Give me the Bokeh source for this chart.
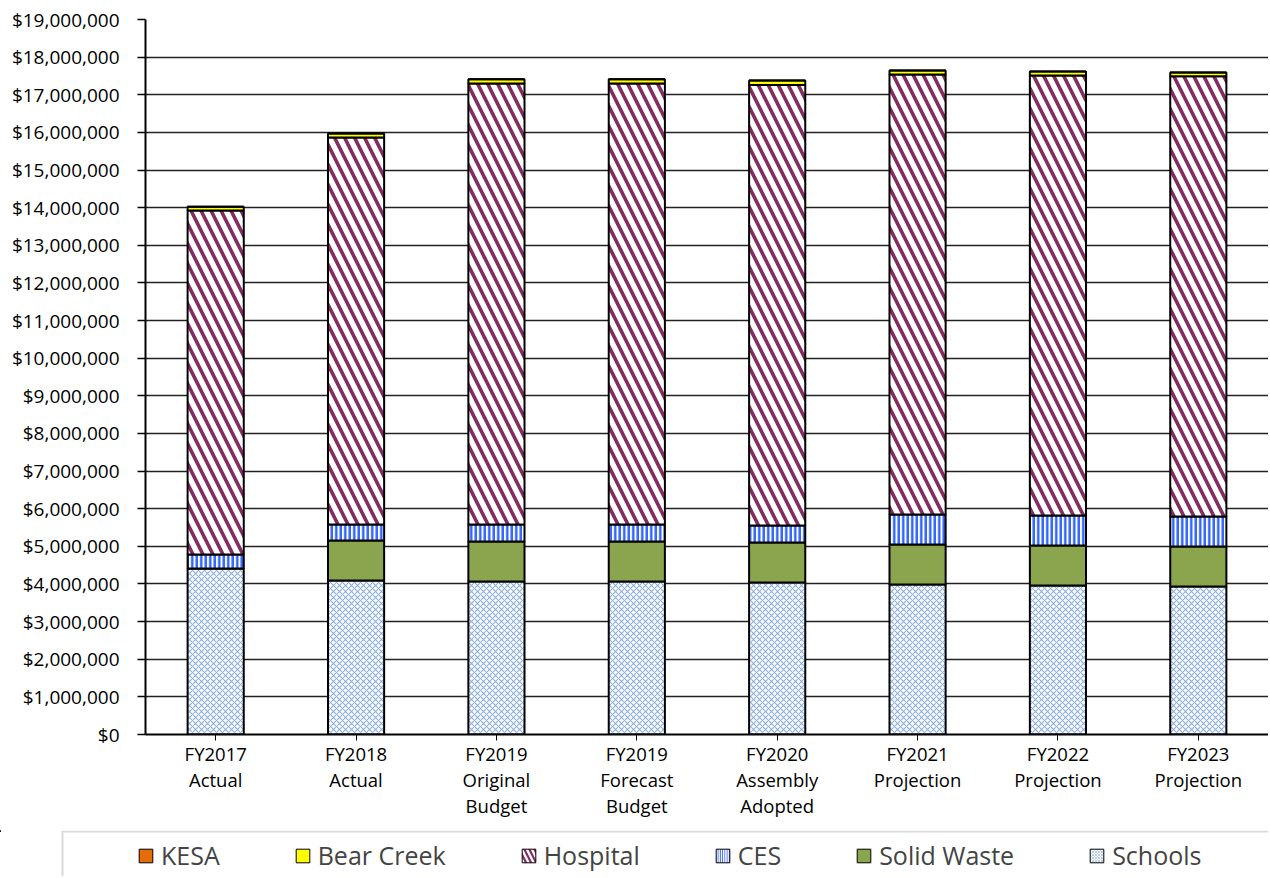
from bokeh.plotting import figure
from bokeh.layouts import column
from bokeh.models import FactorRange, Range1d, Legend, LegendItem, NumeralTickFormatter, FixedTicker
from bokeh.embed import file_html
from bokeh.resources import INLINE

categories = ["FY2017\nActual", "FY2018\nActual", "FY2019\nOriginal\nBudget", "FY2019\nForecast\nBudget",
              "FY2020\nAssembly\nAdopted", "FY2021\nProjection", "FY2022\nProjection", "FY2023\nProjection"]
schools = [4410000, 4090000, 4066000, 4066000, 4039000, 3986000, 3960000, 3933000]
solid_waste = [0, 1065000, 1063000, 1063000, 1063000, 1063000, 1062000, 1062000]
ces = [372000, 426000, 452000, 452000, 452000, 797000, 798000, 798000]
hospital = [9140000, 10284000, 11719000, 11719000, 11706000, 11694000, 11690000, 11697000]
bear_creek = [105000, 105000, 110000, 110000, 120000, 105000, 110000, 100000]
kesa = [0, 0, 0, 0, 0, 0, 0, 0]

series_names = ["Schools", "Solid Waste", "CES", "Hospital", "Bear Creek", "KESA"]
series_keys = ["schools", "solid_waste", "ces", "hospital", "bear_creek", "kesa"]
y_ticks = list(range(0, 19000001, 1000000))

data = dict(cat=categories, schools=schools, solid_waste=solid_waste, ces=ces,
            hospital=hospital, bear_creek=bear_creek, kesa=kesa)

W = 1268
p = figure(x_range=FactorRange(*categories, range_padding=0), y_range=Range1d(0, 19000000),
           width=W, height=830, output_backend="svg", toolbar_location=None,
           min_border_left=145, min_border_right=0, min_border_top=19, min_border_bottom=96)

fills = ["white", "#8BA54E", "white", "white", "#FFFF00", "#E46C0A"]
hatches = ["diagonal_cross", " ", "|", "\\", " ", " "]
hatch_colors = ["#8EB0DE", None, "#3366FF", "#842C60", None, None]
hatch_scales = [6, 12, 4.5, 20, 12, 12]
hatch_weights = [1.1, 1, 2.5, 3.6, 1, 1]

renderers = p.vbar_stack(series_keys, x="cat", width=0.4, source=data,
                         fill_color=fills, line_color="black", line_width=2,
                         hatch_pattern=hatches, hatch_color=hatch_colors,
                         hatch_scale=hatch_scales, hatch_weight=hatch_weights)

p.yaxis.ticker = FixedTicker(ticks=y_ticks)
p.yaxis.formatter = NumeralTickFormatter(format="$0,0")
p.yaxis.minor_tick_line_color = None
p.yaxis.major_tick_out = 8
p.yaxis.major_tick_in = 0
p.yaxis.major_label_standoff = 18
p.yaxis.axis_line_width = 2
p.yaxis.major_tick_line_width = 1.5
p.yaxis.major_label_text_font_size = "19px"
p.xaxis.axis_line_width = 2
p.xaxis.major_tick_out = 6
p.xaxis.major_tick_in = 0
p.xaxis.major_label_standoff = 0
p.xaxis.major_label_text_line_height = 1.04
p.xaxis.major_label_text_font_size = "18.5px"
for ax in (p.xaxis, p.yaxis):
    ax.major_label_text_font = "Open Sans"
    ax.major_label_text_color = "black"
    ax.axis_line_color = "black"
    ax.major_tick_line_color = "black"

p.xgrid.grid_line_color = None
p.ygrid.grid_line_color = "#222222"
p.ygrid.grid_line_width = 1.5
p.outline_line_color = None

# legend strip
LH = 46
leg = figure(width=W, height=LH, x_range=Range1d(0, W), y_range=Range1d(LH, 0),
             output_backend="svg", toolbar_location=None,
             min_border_left=0, min_border_right=0, min_border_top=0, min_border_bottom=0)
for fig in (p, leg):
    try:
        fig.frame_align = False
    except Exception:
        pass
leg.axis.visible = False
leg.grid.visible = False
leg.outline_line_color = None
leg.line(x=[62, 62, W], y=[LH, 1, 1], line_color="#D9D9D9", line_width=2)

dummies = []
for i in range(6):
    r = leg.vbar(x=[-500], top=[1], bottom=[0], width=1, fill_color=fills[i], line_color="black",
                 line_width=1, hatch_pattern=hatches[i], hatch_color=hatch_colors[i],
                 hatch_scale=hatch_scales[i] * 0.5, hatch_weight=hatch_weights[i] * 0.6)
    dummies.append(r)

items = [LegendItem(label=series_names[i], renderers=[dummies[i]]) for i in reversed(range(6))]
legend = Legend(items=items, orientation="horizontal", location=(137, 4),
                label_text_font="Open Sans", label_text_font_size="25px",
                glyph_width=17, glyph_height=17, label_standoff=7, spacing=74,
                padding=0, margin=0, border_line_color=None, background_fill_alpha=0)
leg.add_layout(legend, "center")

layout = column(p, leg, spacing=0)
open("out.html", "w").write(file_html(layout, INLINE))
